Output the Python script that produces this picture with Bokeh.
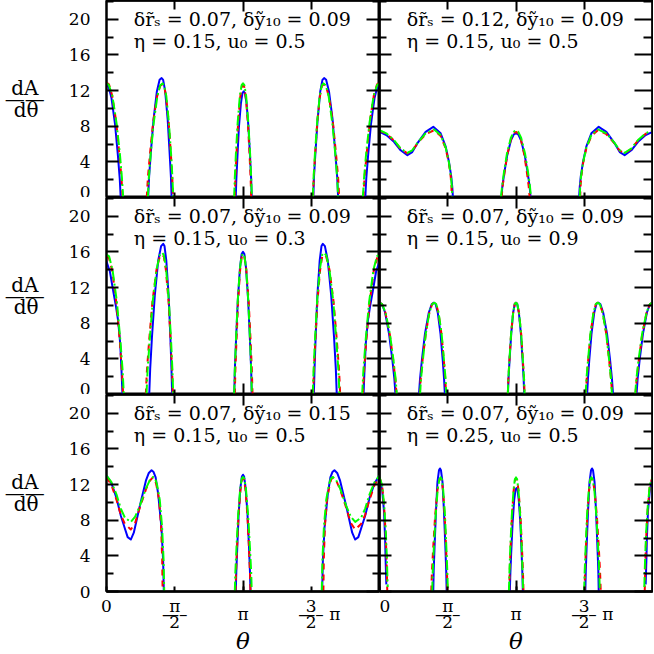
from bokeh.plotting import figure
from bokeh.models import Range1d, FixedTicker, LinearAxis, Label
from bokeh.layouts import gridplot
from bokeh.embed import file_html
from bokeh.resources import INLINE

# theta is given in units of pi; values are dA/dtheta
Y_MAJOR = [0, 4, 8, 12, 16, 20]
Y_MINOR = [2, 6, 10, 14, 18, 22]
X_LONG = [1.0]
X_SHORT = [0.5, 1.5]
X_LABEL_TICKS = [0.0, 0.5, 1.0, 1.5]
X_LABELS = ["0", "π\n—–\n2", "\u00a0\nπ", "3\n\u00a0\u00a0\u00a0—–\u00a0π\n2"]

line1 = ["δr̃ₛ = 0.07,    δỹ₁₀ = 0.09", "δr̃ₛ = 0.12,    δỹ₁₀ = 0.09",
         "δr̃ₛ = 0.07,    δỹ₁₀ = 0.09", "δr̃ₛ = 0.07,    δỹ₁₀ = 0.09",
         "δr̃ₛ = 0.07,    δỹ₁₀ = 0.15", "δr̃ₛ = 0.07,    δỹ₁₀ = 0.09"]
line2 = ["η = 0.15,   u₀ = 0.5", "η = 0.15,   u₀ = 0.5",
         "η = 0.15,   u₀ = 0.3", "η = 0.15,   u₀ = 0.9",
         "η = 0.15,   u₀ = 0.5", "η = 0.25,   u₀ = 0.5"]

p1_blue = [
    [(0, 12.6), (0.016, 12.4), (0.036, 11.2), (0.062, 8.3), (0.083, 4.8), (0.097, 2.1), (0.104, 0)],
    [(0.305, 0), (0.312, 2.3), (0.325, 5.1), (0.345, 8.8), (0.369, 11.9), (0.389, 13.2), (0.404, 13.4), (0.415, 13.2), (0.430, 11.9), (0.448, 8.8), (0.462, 5.1), (0.472, 2.3), (0.477, 0)],
    [(0.947, 0), (0.951, 2.0), (0.959, 4.5), (0.970, 7.9), (0.985, 10.6), (0.996, 11.72), (1.005, 11.9), (1.014, 11.72), (1.026, 10.6), (1.040, 7.9), (1.052, 4.5), (1.060, 2.0), (1.064, 0)],
    [(1.515, 0), (1.520, 2.3), (1.531, 5.1), (1.547, 8.8), (1.566, 11.9), (1.582, 13.2), (1.594, 13.4), (1.609, 13.2), (1.630, 11.9), (1.656, 8.8), (1.676, 5.1), (1.690, 2.3), (1.697, 0)],
    [(1.896, 0), (1.903, 2.1), (1.917, 4.8), (1.938, 8.3), (1.964, 11.2), (1.984, 12.4), (2.0, 12.6)],
]
p1_red = [
    [(0, 12.9), (0.018, 12.7), (0.041, 11.5), (0.071, 8.5), (0.094, 4.9), (0.110, 2.2), (0.118, 0)],
    [(0.295, 0), (0.303, 2.2), (0.318, 4.8), (0.341, 8.4), (0.370, 11.3), (0.393, 12.5), (0.41, 12.7), (0.422, 12.5), (0.437, 11.3), (0.456, 8.4), (0.472, 4.8), (0.482, 2.2), (0.487, 0)],
    [(0.94, 0), (0.944, 2.1), (0.952, 4.8), (0.964, 8.3), (0.979, 11.2), (0.991, 12.41), (1.0, 12.6), (1.009, 12.41), (1.021, 11.2), (1.036, 8.3), (1.048, 4.8), (1.056, 2.1), (1.06, 0)],
    [(1.513, 0), (1.518, 2.2), (1.528, 4.8), (1.544, 8.4), (1.563, 11.3), (1.578, 12.5), (1.59, 12.7), (1.607, 12.5), (1.630, 11.3), (1.659, 8.4), (1.682, 4.8), (1.697, 2.2), (1.705, 0)],
    [(1.882, 0), (1.890, 2.2), (1.906, 4.9), (1.929, 8.5), (1.959, 11.5), (1.982, 12.7), (2.0, 12.9)],
]
p1_green = [
    [(0, 12.8), (0.018, 12.6), (0.043, 11.4), (0.073, 8.4), (0.098, 4.9), (0.113, 2.2), (0.122, 0)],
    [(0.303, 0), (0.310, 2.2), (0.324, 4.9), (0.346, 8.4), (0.373, 11.4), (0.394, 12.6), (0.41, 12.8), (0.422, 12.6), (0.438, 11.4), (0.457, 8.4), (0.473, 4.9), (0.483, 2.2), (0.489, 0)],
    [(0.935, 0), (0.940, 2.2), (0.948, 4.9), (0.961, 8.4), (0.977, 11.4), (0.990, 12.6), (1.0, 12.8), (1.010, 12.6), (1.023, 11.4), (1.039, 8.4), (1.052, 4.9), (1.060, 2.2), (1.065, 0)],
    [(1.511, 0), (1.517, 2.2), (1.527, 4.9), (1.543, 8.4), (1.562, 11.4), (1.578, 12.6), (1.59, 12.8), (1.606, 12.6), (1.627, 11.4), (1.654, 8.4), (1.676, 4.9), (1.690, 2.2), (1.697, 0)],
    [(1.878, 0), (1.887, 2.2), (1.902, 4.9), (1.927, 8.4), (1.957, 11.4), (1.982, 12.6), (2.0, 12.8)],
]

p2_blue = [
    [(0, 7.37), (0.05, 7.0), (0.106, 6.25), (0.155, 5.3), (0.204, 4.75), (0.24, 5.1), (0.277, 6.07), (0.338, 7.37), (0.394, 7.93), (0.448, 7.2), (0.485, 5.7), (0.509, 4.0), (0.526, 2.3), (0.533, 1.2), (0.538, 0)],
    [(0.893, 0), (0.900, 1.22), (0.914, 2.74), (0.936, 4.75), (0.963, 6.41), (0.984, 7.09), (1.0, 7.2), (1.016, 7.09), (1.037, 6.41), (1.064, 4.75), (1.086, 2.74), (1.100, 1.22), (1.107, 0)],
    [(1.462, 0), (1.467, 1.2), (1.474, 2.3), (1.491, 4.0), (1.515, 5.7), (1.552, 7.2), (1.606, 7.93), (1.662, 7.37), (1.723, 6.07), (1.76, 5.1), (1.796, 4.75), (1.845, 5.3), (1.894, 6.25), (1.95, 7.0), (2.0, 7.37)],
]
p2_red = [
    [(0, 7.5), (0.05, 7.15), (0.106, 6.4), (0.155, 5.45), (0.204, 4.95), (0.24, 5.25), (0.277, 6.05), (0.338, 7.1), (0.40, 7.55), (0.448, 6.9), (0.485, 5.5), (0.509, 3.8), (0.522, 2.3), (0.527, 1.2), (0.530, 0)],
    [(0.895, 0), (0.902, 1.25), (0.916, 2.79), (0.937, 4.85), (0.963, 6.54), (0.984, 7.24), (1.0, 7.35), (1.015, 7.24), (1.035, 6.54), (1.06, 4.85), (1.08, 2.79), (1.093, 1.25), (1.10, 0)],
    [(1.470, 0), (1.473, 1.2), (1.478, 2.3), (1.491, 3.8), (1.515, 5.5), (1.552, 6.9), (1.60, 7.55), (1.662, 7.1), (1.723, 6.05), (1.76, 5.25), (1.796, 4.95), (1.845, 5.45), (1.894, 6.4), (1.95, 7.15), (2.0, 7.5)],
]
p2_green = [
    [(0, 7.55), (0.05, 7.2), (0.106, 6.45), (0.155, 5.5), (0.204, 5.0), (0.24, 5.3), (0.277, 6.1), (0.338, 7.2), (0.40, 7.64), (0.448, 7.0), (0.485, 5.6), (0.509, 3.9), (0.524, 2.3), (0.530, 1.2), (0.533, 0)],
    [(0.89, 0), (0.898, 1.28), (0.912, 2.85), (0.934, 4.95), (0.962, 6.68), (0.984, 7.39), (1.0, 7.5), (1.016, 7.39), (1.038, 6.68), (1.066, 4.95), (1.088, 2.85), (1.102, 1.28), (1.11, 0)],
    [(1.467, 0), (1.470, 1.2), (1.476, 2.3), (1.491, 3.9), (1.515, 5.6), (1.552, 7.0), (1.60, 7.64), (1.662, 7.2), (1.723, 6.1), (1.76, 5.3), (1.796, 5.0), (1.845, 5.5), (1.894, 6.45), (1.95, 7.2), (2.0, 7.55)],
]

p3_blue = [
    [(0, 14.9), (0.025, 13.8), (0.048, 11.7), (0.07, 9.8), (0.085, 8.3), (0.10, 5.8), (0.11, 2.7), (0.117, 0)],
    [(0.313, 0), (0.320, 2.87), (0.333, 6.42), (0.354, 11.15), (0.379, 15.04), (0.400, 16.65), (0.415, 16.9), (0.425, 16.65), (0.438, 15.04), (0.455, 11.15), (0.468, 6.42), (0.476, 2.87), (0.481, 0)],
    [(0.936, 0), (0.940, 2.72), (0.949, 6.08), (0.962, 10.56), (0.978, 14.24), (0.990, 15.76), (1.0, 16.0), (1.010, 15.76), (1.022, 14.24), (1.038, 10.56), (1.051, 6.08), (1.060, 2.72), (1.064, 0)],
    [(1.519, 0), (1.524, 2.87), (1.532, 6.42), (1.545, 11.15), (1.562, 15.04), (1.575, 16.65), (1.585, 16.9), (1.600, 16.65), (1.621, 15.04), (1.646, 11.15), (1.667, 6.42), (1.680, 2.87), (1.687, 0)],
    [(1.883, 0), (1.89, 2.7), (1.90, 5.8), (1.915, 8.3), (1.93, 9.8), (1.952, 11.7), (1.975, 13.8), (2.0, 14.9)],
]
p3_red = [
    [(0, 15.5), (0.018, 15.3), (0.043, 13.8), (0.073, 10.2), (0.098, 5.9), (0.113, 2.6), (0.122, 0)],
    [(0.288, 0), (0.296, 2.67), (0.312, 5.97), (0.336, 10.36), (0.366, 13.97), (0.390, 15.46), (0.408, 15.7), (0.420, 15.46), (0.435, 13.97), (0.455, 10.36), (0.470, 5.97), (0.481, 2.67), (0.486, 0)],
    [(0.94, 0), (0.944, 2.67), (0.952, 5.97), (0.964, 10.36), (0.979, 13.97), (0.991, 15.46), (1.0, 15.7), (1.0105, 15.46), (1.0245, 13.97), (1.042, 10.36), (1.056, 5.97), (1.065, 2.67), (1.07, 0)],
    [(1.514, 0), (1.519, 2.67), (1.530, 5.97), (1.545, 10.36), (1.565, 13.97), (1.580, 15.46), (1.592, 15.7), (1.610, 15.46), (1.634, 13.97), (1.664, 10.36), (1.688, 5.97), (1.704, 2.67), (1.712, 0)],
    [(1.878, 0), (1.887, 2.6), (1.902, 5.9), (1.927, 10.2), (1.957, 13.8), (1.982, 15.3), (2.0, 15.5)],
]
p3_green = [
    [(0, 15.7), (0.019, 15.5), (0.044, 14.0), (0.076, 10.4), (0.102, 6.0), (0.118, 2.7), (0.127, 0)],
    [(0.293, 0), (0.301, 2.7), (0.316, 6.04), (0.339, 10.49), (0.368, 14.15), (0.391, 15.66), (0.408, 15.9), (0.420, 15.66), (0.436, 14.15), (0.457, 10.49), (0.473, 6.04), (0.483, 2.7), (0.489, 0)],
    [(0.935, 0), (0.940, 2.69), (0.948, 6.0), (0.961, 10.43), (0.977, 14.06), (0.990, 15.56), (1.0, 15.8), (1.010, 15.56), (1.023, 14.06), (1.039, 10.43), (1.052, 6.0), (1.060, 2.69), (1.065, 0)],
    [(1.511, 0), (1.517, 2.7), (1.527, 6.04), (1.543, 10.49), (1.564, 14.15), (1.580, 15.66), (1.592, 15.9), (1.609, 15.66), (1.632, 14.15), (1.661, 10.49), (1.684, 6.04), (1.699, 2.7), (1.707, 0)],
    [(1.873, 0), (1.882, 2.7), (1.898, 6.0), (1.924, 10.4), (1.956, 14.0), (1.981, 15.5), (2.0, 15.7)],
]

p4_blue = [
    [(0, 10.3), (0.018, 10.15), (0.041, 9.2), (0.070, 6.8), (0.094, 3.9), (0.109, 1.75), (0.117, 0)],
    [(0.289, 0), (0.297, 1.75), (0.311, 3.91), (0.333, 6.80), (0.361, 9.17), (0.383, 10.15), (0.399, 10.3), (0.411, 10.15), (0.427, 9.17), (0.447, 6.80), (0.463, 3.91), (0.473, 1.75), (0.479, 0)],
    [(0.941, 0), (0.945, 1.75), (0.953, 3.91), (0.965, 6.8), (0.979, 9.17), (0.991, 10.15), (1.0, 10.3), (1.009, 10.15), (1.021, 9.17), (1.036, 6.8), (1.048, 3.91), (1.056, 1.75), (1.06, 0)],
    [(1.521, 0), (1.527, 1.75), (1.537, 3.91), (1.553, 6.8), (1.573, 9.17), (1.589, 10.15), (1.601, 10.3), (1.618, 10.15), (1.639, 9.17), (1.667, 6.8), (1.689, 3.91), (1.703, 1.75), (1.711, 0)],
    [(1.883, 0), (1.891, 1.75), (1.906, 3.9), (1.930, 6.8), (1.959, 9.2), (1.982, 10.15), (2.0, 10.3)],
]
p4_red = [
    [(0, 10.3), (0.019, 10.15), (0.043, 9.2), (0.075, 6.8), (0.100, 3.9), (0.116, 1.75), (0.125, 0)],
    [(0.295, 0), (0.302, 1.75), (0.316, 3.91), (0.339, 6.8), (0.365, 9.17), (0.386, 10.15), (0.402, 10.3), (0.415, 10.15), (0.432, 9.17), (0.454, 6.8), (0.471, 3.91), (0.482, 1.75), (0.488, 0)],
    [(0.94, 0), (0.944, 1.75), (0.952, 3.91), (0.964, 6.8), (0.979, 9.17), (0.991, 10.15), (1.0, 10.3), (1.009, 10.15), (1.022, 9.17), (1.038, 6.8), (1.050, 3.91), (1.059, 1.75), (1.063, 0)],
    [(1.512, 0), (1.518, 1.75), (1.529, 3.91), (1.546, 6.8), (1.568, 9.17), (1.585, 10.15), (1.598, 10.3), (1.614, 10.15), (1.635, 9.17), (1.661, 6.8), (1.682, 3.91), (1.696, 1.75), (1.705, 0)],
    [(1.875, 0), (1.884, 1.75), (1.9, 3.9), (1.925, 6.8), (1.957, 9.2), (1.981, 10.15), (2.0, 10.3)],
]
p4_green = [
    [(0, 10.3), (0.019, 10.15), (0.044, 9.2), (0.076, 6.8), (0.102, 3.9), (0.118, 1.75), (0.127, 0)],
    [(0.297, 0), (0.304, 1.75), (0.318, 3.91), (0.339, 6.8), (0.365, 9.17), (0.386, 10.15), (0.402, 10.3), (0.415, 10.15), (0.433, 9.17), (0.455, 6.8), (0.472, 3.91), (0.484, 1.75), (0.49, 0)],
    [(0.94, 0), (0.944, 1.75), (0.952, 3.91), (0.964, 6.8), (0.979, 9.17), (0.991, 10.15), (1.0, 10.3), (1.009, 10.15), (1.022, 9.17), (1.038, 6.8), (1.050, 3.91), (1.059, 1.75), (1.063, 0)],
    [(1.51, 0), (1.516, 1.75), (1.528, 3.91), (1.545, 6.8), (1.567, 9.17), (1.585, 10.15), (1.598, 10.3), (1.614, 10.15), (1.635, 9.17), (1.661, 6.8), (1.682, 3.91), (1.696, 1.75), (1.703, 0)],
    [(1.873, 0), (1.882, 1.75), (1.898, 3.9), (1.924, 6.8), (1.956, 9.2), (1.981, 10.15), (2.0, 10.3)],
]

p5_blue = [
    [(0, 13.0), (0.035, 12.2), (0.073, 10.5), (0.105, 8.5), (0.134, 7.1), (0.155, 6.1), (0.178, 5.83), (0.20, 6.6), (0.244, 9.6), (0.29, 12.5), (0.31, 13.3), (0.33, 13.6), (0.345, 13.4), (0.36, 12.8), (0.379, 10.9), (0.403, 7.1), (0.415, 3.4), (0.420, 0)],
    [(0.947, 0), (0.951, 2.23), (0.958, 4.98), (0.968, 8.65), (0.981, 11.66), (0.992, 12.9), (1.0, 13.1), (1.008, 12.9), (1.019, 11.66), (1.033, 8.65), (1.044, 4.98), (1.051, 2.23), (1.055, 0)],
    [(1.580, 0), (1.585, 3.4), (1.597, 7.1), (1.621, 10.9), (1.64, 12.8), (1.655, 13.4), (1.67, 13.6), (1.69, 13.3), (1.71, 12.5), (1.756, 9.6), (1.80, 6.6), (1.822, 5.83), (1.845, 6.1), (1.866, 7.1), (1.895, 8.5), (1.927, 10.5), (1.965, 12.2), (2.0, 13.0)],
]
p5_red = [
    [(0, 12.8), (0.035, 12.0), (0.073, 10.3), (0.105, 8.6), (0.134, 7.6), (0.178, 6.95), (0.21, 7.7), (0.244, 9.4), (0.29, 11.5), (0.316, 12.4), (0.34, 12.8), (0.353, 12.6), (0.365, 12.0), (0.385, 10.3), (0.400, 7.3), (0.408, 3.6), (0.411, 0)],
    [(0.945, 0), (0.949, 2.16), (0.956, 4.83), (0.967, 8.38), (0.981, 11.3), (0.992, 12.5), (1.0, 12.7), (1.008, 12.5), (1.019, 11.3), (1.033, 8.38), (1.044, 4.83), (1.051, 2.16), (1.055, 0)],
    [(1.589, 0), (1.592, 3.6), (1.60, 7.3), (1.615, 10.3), (1.635, 12.0), (1.647, 12.6), (1.66, 12.8), (1.684, 12.4), (1.71, 11.5), (1.756, 9.4), (1.79, 7.7), (1.822, 6.95), (1.866, 7.6), (1.895, 8.6), (1.927, 10.3), (1.965, 12.0), (2.0, 12.8)],
]
p5_green = [
    [(0, 13.0), (0.035, 12.3), (0.073, 10.9), (0.105, 9.3), (0.134, 8.3), (0.178, 7.8), (0.21, 8.4), (0.244, 9.6), (0.29, 11.6), (0.318, 12.5), (0.342, 12.85), (0.357, 12.65), (0.37, 12.0), (0.39, 10.3), (0.407, 7.3), (0.418, 3.6), (0.423, 0)],
    [(0.94, 0), (0.944, 2.18), (0.952, 4.88), (0.964, 8.48), (0.979, 11.44), (0.991, 12.66), (1.0, 12.85), (1.010, 12.66), (1.022, 11.44), (1.038, 8.48), (1.051, 4.88), (1.060, 2.18), (1.064, 0)],
    [(1.577, 0), (1.582, 3.6), (1.593, 7.3), (1.61, 10.3), (1.63, 12.0), (1.643, 12.65), (1.658, 12.85), (1.682, 12.5), (1.71, 11.6), (1.756, 9.6), (1.79, 8.4), (1.822, 7.8), (1.866, 8.3), (1.895, 9.3), (1.927, 10.9), (1.965, 12.3), (2.0, 13.0)],
]

p6_blue = [
    [(0, 12.8), (0.02, 11.3), (0.033, 9.0), (0.041, 6.0), (0.045, 3.4), (0.05, 0.8)],
    [(0.394, 0), (0.397, 2.35), (0.404, 5.24), (0.414, 9.11), (0.4245, 12.28), (0.4357, 13.6), (0.443, 13.8), (0.4504, 13.6), (0.4615, 12.28), (0.472, 9.11), (0.482, 5.24), (0.4886, 2.35), (0.492, 0)],
    [(0.955, 0), (0.9585, 1.97), (0.965, 4.41), (0.975, 7.66), (0.987, 10.32), (0.9966, 11.43), (1.004, 11.6), (1.011, 11.43), (1.020, 10.32), (1.032, 7.66), (1.041, 4.41), (1.047, 1.97), (1.05, 0)],
    [(1.508, 0), (1.5114, 2.35), (1.518, 5.24), (1.528, 9.11), (1.5385, 12.28), (1.5497, 13.6), (1.557, 13.8), (1.5643, 13.6), (1.5755, 12.28), (1.586, 9.11), (1.596, 5.24), (1.603, 2.35), (1.606, 0)],
    [(1.95, 0.8), (1.955, 3.4), (1.959, 6.0), (1.967, 9.0), (1.98, 11.3), (2.0, 12.8)],
]
p6_red = [
    [(0, 12.85), (0.02, 11.8), (0.035, 9.3), (0.045, 6.5), (0.052, 3.6), (0.057, 0)],
    [(0.379, 0), (0.384, 2.16), (0.393, 4.83), (0.407, 8.38), (0.424, 11.3), (0.4377, 12.5), (0.448, 12.7), (0.4555, 12.5), (0.4655, 11.3), (0.478, 8.38), (0.488, 4.83), (0.4945, 2.16), (0.498, 0)],
    [(0.95, 0), (0.9535, 2.16), (0.96, 4.83), (0.97, 8.38), (0.9825, 11.3), (0.9925, 12.5), (1.0, 12.7), (1.008, 12.5), (1.019, 11.3), (1.033, 8.38), (1.044, 4.83), (1.051, 2.16), (1.055, 0)],
    [(1.502, 0), (1.5055, 2.16), (1.512, 4.83), (1.522, 8.38), (1.5345, 11.3), (1.5445, 12.5), (1.552, 12.7), (1.5624, 12.5), (1.576, 11.3), (1.593, 8.38), (1.607, 4.83), (1.616, 2.16), (1.621, 0)],
    [(1.943, 0), (1.948, 3.6), (1.955, 6.5), (1.965, 9.3), (1.98, 11.8), (2.0, 12.85)],
]
p6_green = [
    [(0, 12.85), (0.02, 11.9), (0.035, 9.5), (0.046, 6.8), (0.054, 3.8), (0.060, 0.5)],
    [(0.386, 0), (0.390, 2.18), (0.398, 4.86), (0.411, 8.45), (0.426, 11.39), (0.4387, 12.6), (0.448, 12.8), (0.456, 12.6), (0.4666, 11.39), (0.480, 8.45), (0.490, 4.86), (0.497, 2.18), (0.501, 0)],
    [(0.948, 0), (0.952, 2.18), (0.958, 4.86), (0.969, 8.45), (0.982, 11.39), (0.992, 12.6), (1.0, 12.8), (1.008, 12.6), (1.018, 11.39), (1.031, 8.45), (1.042, 4.86), (1.048, 2.18), (1.052, 0)],
    [(1.499, 0), (1.503, 2.18), (1.510, 4.86), (1.520, 8.45), (1.5334, 11.39), (1.544, 12.6), (1.552, 12.8), (1.5613, 12.6), (1.574, 11.39), (1.589, 8.45), (1.602, 4.86), (1.610, 2.18), (1.614, 0)],
    [(1.94, 0.5), (1.946, 3.8), (1.954, 6.8), (1.965, 9.5), (1.98, 11.9), (2.0, 12.85)],
]

panels = [
    (p1_blue, p1_red, p1_green), (p2_blue, p2_red, p2_green),
    (p3_blue, p3_red, p3_green), (p4_blue, p4_red, p4_green),
    (p5_blue, p5_red, p5_green), (p6_blue, p6_red, p6_green),
]

SERIF = "DejaVu Serif"
FW, FH = 273, 197


def base_axis(ax):
    ax.axis_line_color = "black"
    ax.axis_line_width = 2
    ax.major_tick_line_color = "black"
    ax.major_tick_line_width = 2
    ax.minor_tick_line_color = "black"
    ax.minor_tick_line_width = 2
    ax.major_tick_out = 0
    ax.minor_tick_out = 0
    ax.axis_label = None
    return ax


def tick_axis(positions, length):
    """Axis that only draws inward tick marks (no labels)."""
    ax = LinearAxis(ticker=FixedTicker(ticks=[], minor_ticks=positions))
    base_axis(ax)
    ax.major_tick_in = 0
    ax.minor_tick_in = length
    ax.major_label_standoff = 0
    return ax


def set_opt(obj, name, val):
    try:
        setattr(obj, name, val)
    except Exception:
        pass


figs = []
for i, (blue, red, green) in enumerate(panels):
    row, col = divmod(i, 2)
    p = figure(frame_width=FW, frame_height=FH,
               x_range=Range1d(0, 2), y_range=Range1d(0, 22.1),
               x_axis_location=None, y_axis_location=None,
               output_backend="svg", toolbar_location=None, tools="",
               min_border=0,
               min_border_left=106 if col == 0 else 0,
               min_border_right=0 if col == 0 else 1,
               min_border_top=0,
               min_border_bottom=62 if row == 2 else 0,
               background_fill_color="white", border_fill_color="white",
               outline_line_color="black", outline_line_width=2)
    p.xgrid.visible = False
    p.ygrid.visible = False

    # left side
    if col == 0:
        ax = base_axis(LinearAxis(ticker=FixedTicker(ticks=Y_MAJOR, minor_ticks=Y_MINOR)))
        ax.major_tick_in = 12
        ax.minor_tick_in = 7
        ax.major_label_text_font = SERIF
        ax.major_label_text_font_size = "17px"
        ax.major_label_text_color = "black"
        ax.major_label_standoff = 16
        ax.axis_label = "dA\u00a0\n——\ndθ\u00a0"
        ax.axis_label_text_font = SERIF
        ax.axis_label_text_font_size = "20px"
        ax.axis_label_text_font_style = "normal"
        ax.axis_label_text_color = "black"
        ax.axis_label_text_line_height = 0.46
        ax.axis_label_standoff = 21
        set_opt(ax, "axis_label_orientation", "horizontal")
        p.add_layout(ax, "left")
    else:
        p.add_layout(tick_axis(Y_MAJOR, 12), "left")
        p.add_layout(tick_axis(Y_MINOR, 7), "left")

    # right side
    p.add_layout(tick_axis(Y_MAJOR, 13 if col == 0 else 18), "right")
    p.add_layout(tick_axis(Y_MINOR, 7 if col == 0 else 9), "right")

    # top side
    p.add_layout(tick_axis(X_LONG, 11), "above")
    p.add_layout(tick_axis(X_SHORT, 9), "above")

    # bottom side
    p.add_layout(tick_axis(X_LONG, 11), "below")
    if row == 2:
        ax = base_axis(LinearAxis(ticker=FixedTicker(ticks=X_LABEL_TICKS)))
        ax.major_tick_in = 5
        ax.minor_tick_in = 0
        ax.major_label_overrides = dict(zip(X_LABEL_TICKS, X_LABELS))
        ax.major_label_text_font = SERIF
        ax.major_label_text_font_size = "17px"
        ax.major_label_text_color = "black"
        ax.major_label_text_line_height = 0.42
        ax.major_label_standoff = 4
        ax.axis_label = "θ"
        ax.axis_label_text_font = SERIF
        ax.axis_label_text_font_size = "23px"
        ax.axis_label_text_font_style = "italic"
        ax.axis_label_text_color = "black"
        ax.axis_label_standoff = -7
        p.add_layout(ax, "below")
    else:
        p.add_layout(tick_axis(X_SHORT, 5), "below")

    for arcs, color, dash in ((blue, "#0000ff", "solid"),
                              (red, "#ff0000", "6 5"),
                              (green, "#00ff00", "10 3 2 3")):
        xs = [[t for t, v in arc] for arc in arcs]
        ys = [[v for t, v in arc] for arc in arcs]
        p.multi_line(xs, ys, line_color=color, line_width=2, line_dash=dash,
                     line_join="round")

    for txt, yv in ((line1[i], 20.0), (line2[i], 17.55)):
        p.add_layout(Label(x=0.2, y=yv, text=txt, text_font=SERIF,
                           text_font_size="19px", text_align="left",
                           text_baseline="middle", text_color="black"))
    figs.append(p)

grid = gridplot([[figs[0], figs[1]], [figs[2], figs[3]], [figs[4], figs[5]]],
                toolbar_location=None)

open("out.html", "w").write(file_html(grid, INLINE))
